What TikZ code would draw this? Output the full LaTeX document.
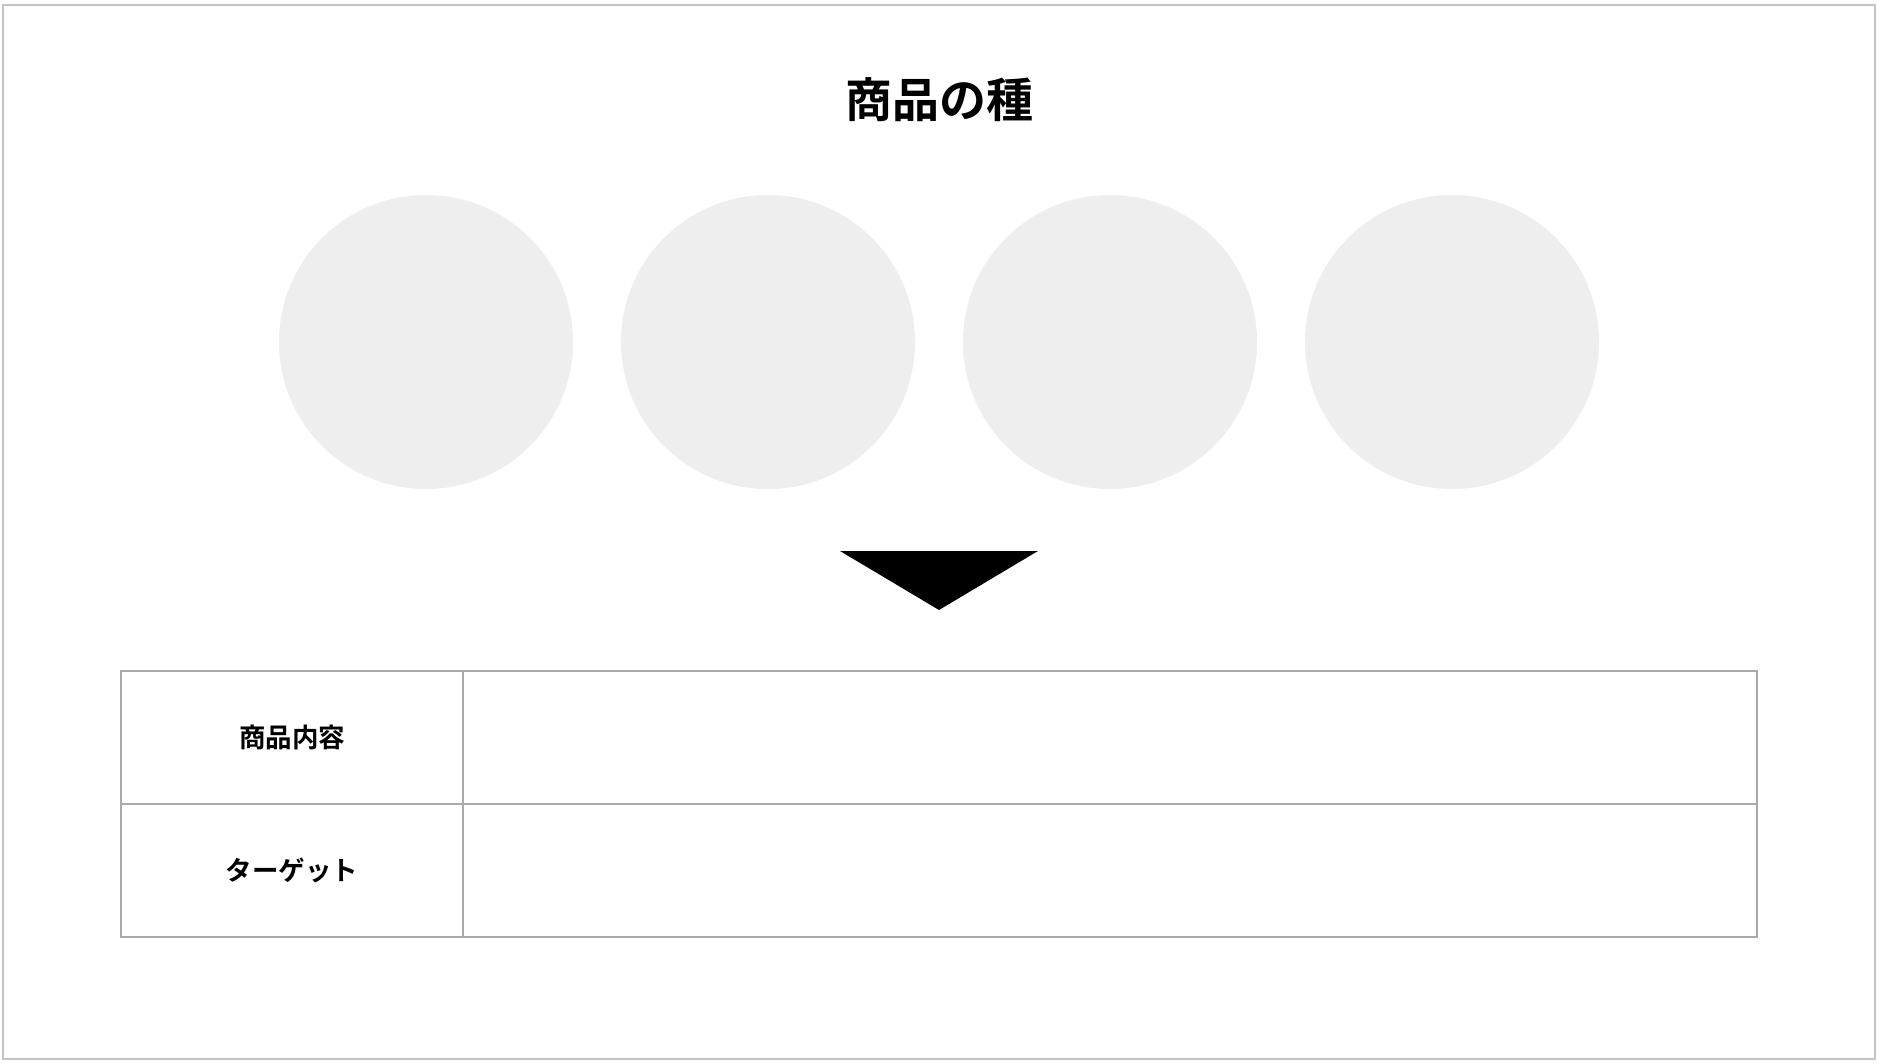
\documentclass[tikz,border=0pt]{standalone}
\usepackage{fontspec}
\newfontfamily\cjk{Noto Sans CJK JP}[BoldFont={Noto Sans CJK JP Bold}]
\definecolor{framegray}{HTML}{C4C4C4}
\definecolor{linegray}{HTML}{AAAAAA}
\definecolor{discgray}{HTML}{EEEEEE}
\tikzset{
  disc/.style={circle, fill=discgray, draw=none, minimum size=294pt, inner sep=0pt},
  cellline/.style={draw=linegray, line width=2pt},
  cellhead/.style={font=\cjk\bfseries\fontsize{26.5}{31}\selectfont, inner sep=0pt},
  titletext/.style={font=\cjk\bfseries\fontsize{47}{56}\selectfont, inner sep=0pt}
}
\begin{document}
\begin{tikzpicture}[x=1pt,y=-1pt]
\useasboundingbox (0,0) rectangle (1880,1064);
\fill[white] (0,0) rectangle (1880,1064);
\draw[framegray, line width=2pt] (3,5) rectangle (1875,1059);
\node[titletext] (title) at (939,100) {商品の種};
\node[disc] (c1) at (426,342) {};
\node[disc] (c2) at (768,342) {};
\node[disc] (c3) at (1110,342) {};
\node[disc] (c4) at (1452,342) {};
\fill[black] (840,551) -- (1038,551) -- (939,610) -- cycle;
\draw[cellline] (121,671) rectangle (1757,937);
\draw[cellline] (121,804) -- (1757,804);
\draw[cellline] (463,671) -- (463,937);
\node[cellhead] (h1) at (292,737) {商品内容};
\node[cellhead] (h2) at (292,870) {ターゲット};
\end{tikzpicture}
\end{document}
